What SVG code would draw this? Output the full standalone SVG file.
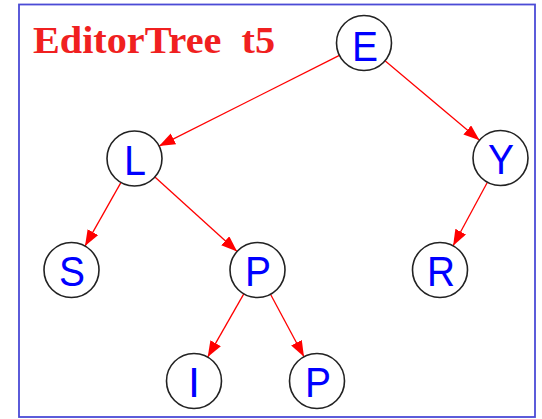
<svg xmlns="http://www.w3.org/2000/svg" width="542" height="419" viewBox="0 0 542 419">
<style>
.node circle{fill:#fff;stroke:#222;stroke-width:1.6}
.node text{font-family:"Liberation Sans",Arial,sans-serif;font-size:43px;fill:#0000ff;text-anchor:middle}
.edge{stroke:#ff0000;stroke-width:1.3;fill:none;marker-end:url(#arr)}
.title{font-family:"Liberation Serif","Times New Roman",serif;font-weight:bold;font-size:37px;fill:#f02020}
</style>
<defs>
<marker id="arr" markerUnits="userSpaceOnUse" markerWidth="18" markerHeight="14" refX="16" refY="6" orient="auto">
<path d="M0,0 L16,6 L0,12 Z" fill="#ff0000"/>
</marker>
</defs>
<rect x="0" y="0" width="542" height="419" fill="#fff"/>
<rect x="19" y="4.5" width="516" height="412.5" fill="none" stroke="#4b4bd6" stroke-width="1.8"/>
<text class="title" x="33" y="53" xml:space="preserve" textLength="242" lengthAdjust="spacingAndGlyphs">EditorTree  t5</text>
<g id="connectors">
<line class="edge" x1="339.4" y1="55.4" x2="159.1" y2="146.1"/>
<line class="edge" x1="385.0" y1="60.7" x2="479.5" y2="140.3"/>
<line class="edge" x1="121.0" y1="182.4" x2="85.0" y2="246.1"/>
<line class="edge" x1="154.9" y1="177.0" x2="237.1" y2="251.5"/>
<line class="edge" x1="243.8" y1="293.9" x2="207.7" y2="357.1"/>
<line class="edge" x1="270.5" y1="294.2" x2="304.0" y2="356.8"/>
<line class="edge" x1="487.4" y1="182.2" x2="453.1" y2="245.8"/>
</g>
<g id="node-E" class="node"><circle cx="364" cy="43" r="27.5"/><text x="365" y="61" textLength="26" lengthAdjust="spacingAndGlyphs">E</text></g>
<g id="node-L" class="node"><circle cx="134.5" cy="158.5" r="27.5"/><text x="135" y="175" textLength="22" lengthAdjust="spacingAndGlyphs">L</text></g>
<g id="node-Y" class="node"><circle cx="500.5" cy="158" r="27.5"/><text x="501" y="174" textLength="26" lengthAdjust="spacingAndGlyphs">Y</text></g>
<g id="node-S" class="node"><circle cx="71.5" cy="270" r="27.5"/><text x="72" y="286" textLength="26" lengthAdjust="spacingAndGlyphs">S</text></g>
<g id="node-P1" class="node"><circle cx="257.5" cy="270" r="27.5"/><text x="258" y="286" textLength="26" lengthAdjust="spacingAndGlyphs">P</text></g>
<g id="node-R" class="node"><circle cx="440" cy="270" r="27.5"/><text x="441" y="286" textLength="28" lengthAdjust="spacingAndGlyphs">R</text></g>
<g id="node-I" class="node"><circle cx="194" cy="381" r="27.5"/><text x="194" y="397">I</text></g>
<g id="node-P2" class="node"><circle cx="317" cy="381" r="27.5"/><text x="318" y="397" textLength="26" lengthAdjust="spacingAndGlyphs">P</text></g>
</svg>
